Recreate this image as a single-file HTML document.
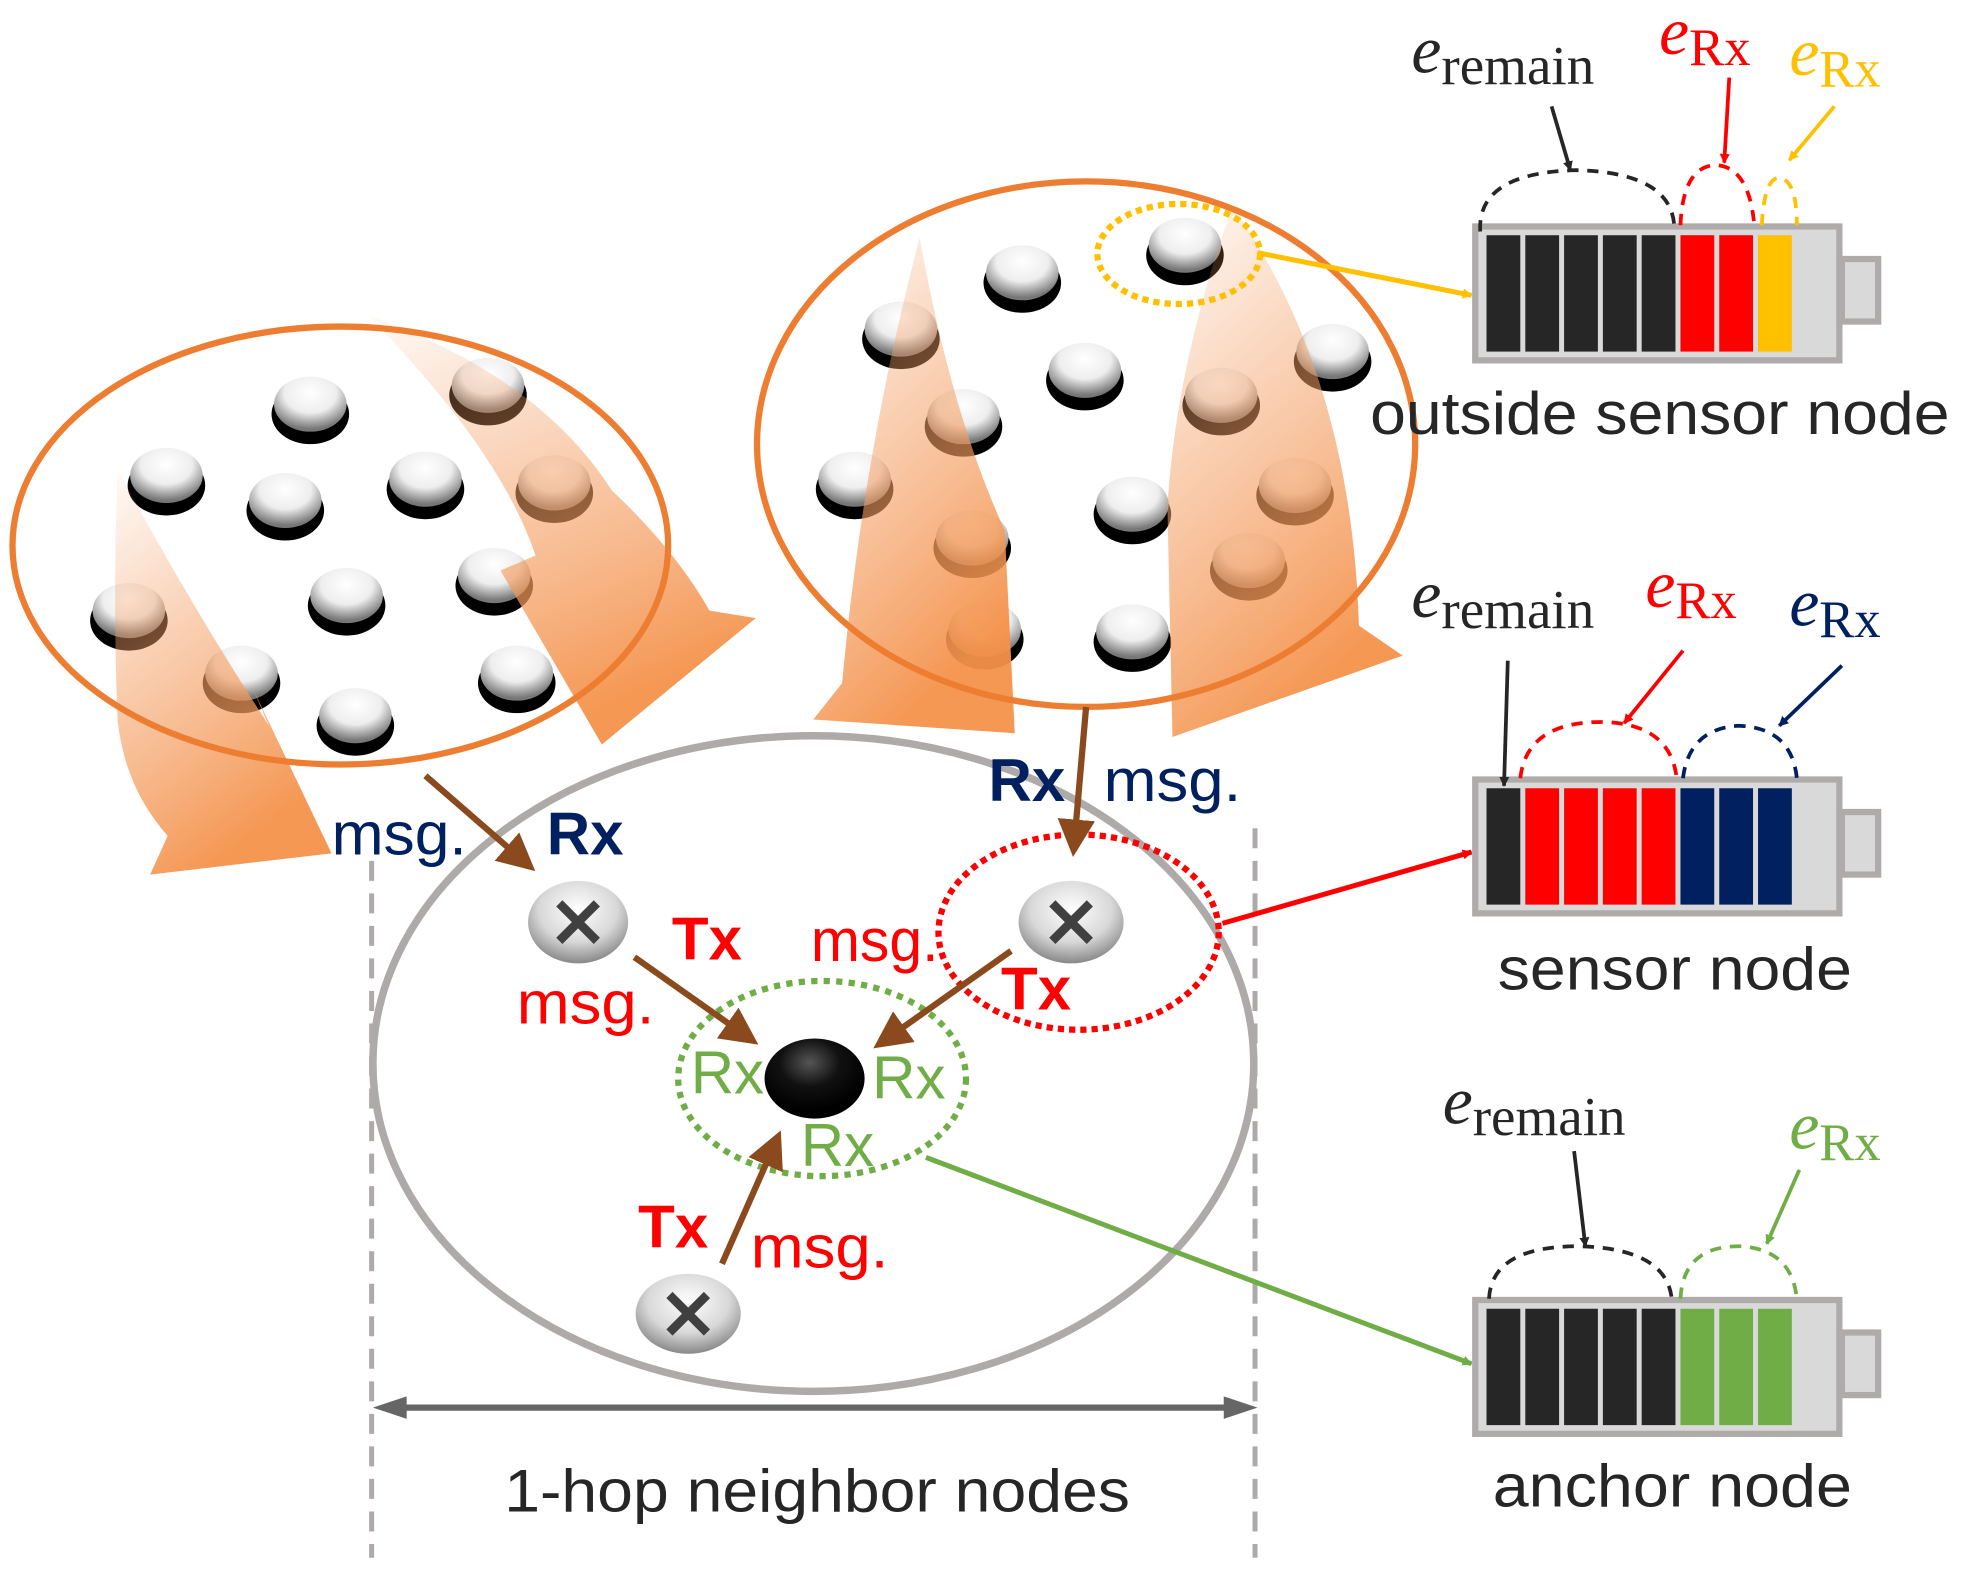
<!DOCTYPE html>
<html><head><meta charset="utf-8"><style>html,body{margin:0;padding:0;background:#fff}svg{display:block}</style></head>
<body>
<svg width="1962" height="1569" viewBox="0 0 1568 1254" preserveAspectRatio="none" xmlns="http://www.w3.org/2000/svg" font-family="Liberation Sans, sans-serif">
<defs>
<linearGradient id="og" x1="0" y1="0" x2="0.4" y2="1"><stop offset="0" stop-color="#f4a066" stop-opacity="0.05"/><stop offset="0.5" stop-color="#f4a066" stop-opacity="0.55"/><stop offset="1" stop-color="#f4924a" stop-opacity="0.95"/></linearGradient>
<radialGradient id="wg" cx="0.5" cy="0.3" r="0.65"><stop offset="0" stop-color="#fff"/><stop offset="0.55" stop-color="#eee"/><stop offset="1" stop-color="#777"/></radialGradient>
<radialGradient id="gg" cx="0.5" cy="0.35" r="0.65"><stop offset="0" stop-color="#fff"/><stop offset="0.6" stop-color="#d8d8d8"/><stop offset="1" stop-color="#888"/></radialGradient>
<radialGradient id="bg" cx="0.45" cy="0.3" r="0.6"><stop offset="0" stop-color="#555"/><stop offset="0.5" stop-color="#111"/><stop offset="1" stop-color="#000"/></radialGradient>
<marker id="mb" markerWidth="6" markerHeight="6" refX="5" refY="3" orient="auto" markerUnits="strokeWidth"><path d="M0,0 L6,3 L0,6z" fill="#8a4a1e"/></marker>
<marker id="ak" markerWidth="8" markerHeight="8" refX="7" refY="4" orient="auto" markerUnits="userSpaceOnUse"><path d="M0,0 L8,4 L0,8z" fill="context-stroke"/></marker>
</defs>

<ellipse cx="650" cy="850" rx="352" ry="262" fill="none" stroke="#aeaaaa" stroke-width="6"/>
<line x1="297" y1="688" x2="297" y2="1245" stroke="#aeaaaa" stroke-width="4" stroke-dasharray="16,10"/>
<line x1="1003" y1="662" x2="1003" y2="1245" stroke="#aeaaaa" stroke-width="4" stroke-dasharray="16,10"/>

<g>
<g transform="translate(248,325)"><ellipse cx="0" cy="6" rx="31" ry="24" fill="#000"/><ellipse cx="0" cy="-2" rx="29" ry="22" fill="url(#wg)"/></g>
<g transform="translate(390,310)"><ellipse cx="0" cy="6" rx="31" ry="24" fill="#000"/><ellipse cx="0" cy="-2" rx="29" ry="22" fill="url(#wg)"/></g>
<g transform="translate(133,382)"><ellipse cx="0" cy="6" rx="31" ry="24" fill="#000"/><ellipse cx="0" cy="-2" rx="29" ry="22" fill="url(#wg)"/></g>
<g transform="translate(228,402)"><ellipse cx="0" cy="6" rx="31" ry="24" fill="#000"/><ellipse cx="0" cy="-2" rx="29" ry="22" fill="url(#wg)"/></g>
<g transform="translate(340,385)"><ellipse cx="0" cy="6" rx="31" ry="24" fill="#000"/><ellipse cx="0" cy="-2" rx="29" ry="22" fill="url(#wg)"/></g>
<g transform="translate(443,388)"><ellipse cx="0" cy="6" rx="31" ry="24" fill="#000"/><ellipse cx="0" cy="-2" rx="29" ry="22" fill="url(#wg)"/></g>
<g transform="translate(103,490)"><ellipse cx="0" cy="6" rx="31" ry="24" fill="#000"/><ellipse cx="0" cy="-2" rx="29" ry="22" fill="url(#wg)"/></g>
<g transform="translate(277,478)"><ellipse cx="0" cy="6" rx="31" ry="24" fill="#000"/><ellipse cx="0" cy="-2" rx="29" ry="22" fill="url(#wg)"/></g>
<g transform="translate(395,462)"><ellipse cx="0" cy="6" rx="31" ry="24" fill="#000"/><ellipse cx="0" cy="-2" rx="29" ry="22" fill="url(#wg)"/></g>
<g transform="translate(193,540)"><ellipse cx="0" cy="6" rx="31" ry="24" fill="#000"/><ellipse cx="0" cy="-2" rx="29" ry="22" fill="url(#wg)"/></g>
<g transform="translate(284,574)"><ellipse cx="0" cy="6" rx="31" ry="24" fill="#000"/><ellipse cx="0" cy="-2" rx="29" ry="22" fill="url(#wg)"/></g>
<g transform="translate(413,540)"><ellipse cx="0" cy="6" rx="31" ry="24" fill="#000"/><ellipse cx="0" cy="-2" rx="29" ry="22" fill="url(#wg)"/></g>
</g>
<g transform="translate(817,220)"><ellipse cx="0" cy="6" rx="31" ry="24" fill="#000"/><ellipse cx="0" cy="-2" rx="29" ry="22" fill="url(#wg)"/></g>
<g transform="translate(947,198)"><ellipse cx="0" cy="6" rx="31" ry="24" fill="#000"/><ellipse cx="0" cy="-2" rx="29" ry="22" fill="url(#wg)"/></g>
<g transform="translate(720,265)"><ellipse cx="0" cy="6" rx="31" ry="24" fill="#000"/><ellipse cx="0" cy="-2" rx="29" ry="22" fill="url(#wg)"/></g>
<g transform="translate(867,298)"><ellipse cx="0" cy="6" rx="31" ry="24" fill="#000"/><ellipse cx="0" cy="-2" rx="29" ry="22" fill="url(#wg)"/></g>
<g transform="translate(976,318)"><ellipse cx="0" cy="6" rx="31" ry="24" fill="#000"/><ellipse cx="0" cy="-2" rx="29" ry="22" fill="url(#wg)"/></g>
<g transform="translate(1065,283)"><ellipse cx="0" cy="6" rx="31" ry="24" fill="#000"/><ellipse cx="0" cy="-2" rx="29" ry="22" fill="url(#wg)"/></g>
<g transform="translate(770,335)"><ellipse cx="0" cy="6" rx="31" ry="24" fill="#000"/><ellipse cx="0" cy="-2" rx="29" ry="22" fill="url(#wg)"/></g>
<g transform="translate(683,385)"><ellipse cx="0" cy="6" rx="31" ry="24" fill="#000"/><ellipse cx="0" cy="-2" rx="29" ry="22" fill="url(#wg)"/></g>
<g transform="translate(905,405)"><ellipse cx="0" cy="6" rx="31" ry="24" fill="#000"/><ellipse cx="0" cy="-2" rx="29" ry="22" fill="url(#wg)"/></g>
<g transform="translate(1035,390)"><ellipse cx="0" cy="6" rx="31" ry="24" fill="#000"/><ellipse cx="0" cy="-2" rx="29" ry="22" fill="url(#wg)"/></g>
<g transform="translate(777,432)"><ellipse cx="0" cy="6" rx="31" ry="24" fill="#000"/><ellipse cx="0" cy="-2" rx="29" ry="22" fill="url(#wg)"/></g>
<g transform="translate(998,450)"><ellipse cx="0" cy="6" rx="31" ry="24" fill="#000"/><ellipse cx="0" cy="-2" rx="29" ry="22" fill="url(#wg)"/></g>
<g transform="translate(787,505)"><ellipse cx="0" cy="6" rx="31" ry="24" fill="#000"/><ellipse cx="0" cy="-2" rx="29" ry="22" fill="url(#wg)"/></g>
<g transform="translate(905,507)"><ellipse cx="0" cy="6" rx="31" ry="24" fill="#000"/><ellipse cx="0" cy="-2" rx="29" ry="22" fill="url(#wg)"/></g>

<path d="M94,375 Q90,480 94,576 Q100,630 134,668 L120,699 L265,682 L200,546 L215,580 Q150,480 94,375z" fill="url(#og)"/>
<path d="M294,252 Q430,300 489,392 Q540,440 567,488 L604,494 L481,595 L400,456 L428,444 Q400,360 294,252z" fill="url(#og)"/>
<path d="M735,190 Q690,360 673,546 L650,575 L811,586 L803,424 Q760,330 735,190z" fill="url(#og)"/>
<path d="M985,165 Q940,290 933,405 L937,589 L1121,524 L1086,500 Q1080,300 985,165z" fill="url(#og)"/>

<ellipse cx="272" cy="436" rx="262" ry="175" fill="none" stroke="#ed7d31" stroke-width="5"/>
<ellipse cx="868" cy="355" rx="263" ry="210" fill="none" stroke="#ed7d31" stroke-width="5"/>
<ellipse cx="942" cy="203" rx="65" ry="40" fill="none" stroke="#ffc000" stroke-width="5" stroke-dasharray="5,4"/>

<g transform="translate(462,737)"><ellipse rx="40" ry="33" fill="url(#gg)"/><path d="M-15,-15 L15,15 M15,-15 L-15,15" stroke="#404040" stroke-width="7"/></g>
<g transform="translate(856,737)"><ellipse rx="42" ry="33" fill="url(#gg)"/><path d="M-15,-15 L15,15 M15,-15 L-15,15" stroke="#404040" stroke-width="7"/></g>
<g transform="translate(550,1050)"><ellipse rx="42" ry="32" fill="url(#gg)"/><path d="M-15,-15 L15,15 M15,-15 L-15,15" stroke="#404040" stroke-width="7"/></g>
<ellipse cx="651" cy="862" rx="40" ry="32" fill="url(#bg)"/>

<ellipse cx="657" cy="862" rx="115" ry="78" fill="none" stroke="#70ad47" stroke-width="5" stroke-dasharray="5,5"/>
<ellipse cx="862" cy="745" rx="112" ry="78" fill="none" stroke="#ff0000" stroke-width="5" stroke-dasharray="5,4"/>

<g stroke="#8a4a1e" stroke-width="5" marker-end="url(#mb)">
<line x1="340" y1="620" x2="424" y2="693"/>
<line x1="868" y1="565" x2="858" y2="680"/>
<line x1="507" y1="765" x2="602" y2="832"/>
<line x1="808" y1="760" x2="702" y2="835"/>
<line x1="577" y1="1010" x2="622" y2="908"/>
</g>

<g marker-end="url(#ak)">
<line x1="1005" y1="202" x2="1176" y2="236" stroke="#ffc000" stroke-width="4"/>
<line x1="977" y1="738" x2="1176" y2="681" stroke="#ff0000" stroke-width="4"/>
<line x1="740" y1="925" x2="1176" y2="1090" stroke="#70ad47" stroke-width="4"/>
</g>
<line x1="310" y1="1125" x2="992" y2="1125" stroke="#666" stroke-width="5"/>
<path d="M298,1125 L325,1116 L325,1134z M1005,1125 L978,1116 L978,1134z" fill="#666"/>

<g font-size="48">
<text x="265" y="683" fill="#002060" textLength="108" lengthAdjust="spacingAndGlyphs">msg.</text>
<text x="437" y="683" fill="#002060" font-weight="bold">Rx</text>
<text x="790" y="640" fill="#002060" font-weight="bold">Rx</text>
<text x="882" y="640" fill="#002060" textLength="110" lengthAdjust="spacingAndGlyphs">msg.</text>
<text x="537" y="767" fill="#ff0000" font-weight="bold">Tx</text>
<text x="413" y="818" fill="#ff0000" textLength="110" lengthAdjust="spacingAndGlyphs">msg.</text>
<text x="648" y="768" fill="#ff0000" textLength="102" lengthAdjust="spacingAndGlyphs">msg.</text>
<text x="800" y="807" fill="#ff0000" font-weight="bold">Tx</text>
<text x="552" y="874" fill="#70ad47">Rx</text>
<text x="697" y="878" fill="#70ad47">Rx</text>
<text x="640" y="932" fill="#70ad47">Rx</text>
<text x="510" y="997" fill="#ff0000" font-weight="bold">Tx</text>
<text x="600" y="1013" fill="#ff0000" textLength="110" lengthAdjust="spacingAndGlyphs">msg.</text>
</g>
<text x="403" y="1208" font-size="48" fill="#262626" textLength="500" lengthAdjust="spacingAndGlyphs">1-hop neighbor nodes</text>

<g fill="#d9d9d9" stroke="#afabab" stroke-width="5">
<rect x="1179" y="181" width="291" height="107"/><rect x="1472" y="207" width="29" height="50"/>
<rect x="1179" y="623" width="291" height="107"/><rect x="1472" y="649" width="29" height="50"/>
<rect x="1179" y="1039" width="291" height="107"/><rect x="1472" y="1065" width="29" height="50"/>
</g>
<g>
<rect x="1188" y="188" width="27" height="93" fill="#262626"/><rect x="1219" y="188" width="27" height="93" fill="#262626"/><rect x="1250" y="188" width="27" height="93" fill="#262626"/><rect x="1281" y="188" width="27" height="93" fill="#262626"/><rect x="1312" y="188" width="27" height="93" fill="#262626"/><rect x="1343" y="188" width="27" height="93" fill="#ff0000"/><rect x="1374" y="188" width="27" height="93" fill="#ff0000"/><rect x="1405" y="188" width="27" height="93" fill="#ffc000"/>
<rect x="1188" y="630" width="27" height="93" fill="#262626"/><rect x="1219" y="630" width="27" height="93" fill="#ff0000"/><rect x="1250" y="630" width="27" height="93" fill="#ff0000"/><rect x="1281" y="630" width="27" height="93" fill="#ff0000"/><rect x="1312" y="630" width="27" height="93" fill="#ff0000"/><rect x="1343" y="630" width="27" height="93" fill="#002060"/><rect x="1374" y="630" width="27" height="93" fill="#002060"/><rect x="1405" y="630" width="27" height="93" fill="#002060"/>
<rect x="1188" y="1046" width="27" height="93" fill="#262626"/><rect x="1219" y="1046" width="27" height="93" fill="#262626"/><rect x="1250" y="1046" width="27" height="93" fill="#262626"/><rect x="1281" y="1046" width="27" height="93" fill="#262626"/><rect x="1312" y="1046" width="27" height="93" fill="#262626"/><rect x="1343" y="1046" width="27" height="93" fill="#70ad47"/><rect x="1374" y="1046" width="27" height="93" fill="#70ad47"/><rect x="1405" y="1046" width="27" height="93" fill="#70ad47"/>
</g>
<g fill="none" stroke-width="3" stroke-dasharray="9,7">
<path d="M1183,185 Q1180,138 1260,136 Q1335,138 1338,180" stroke="#262626"/>
<path d="M1343,180 Q1345,132 1372,132 Q1398,134 1402,180" stroke="#ff0000"/>
<path d="M1408,180 Q1410,142 1422,142 Q1436,144 1436,180" stroke="#ffc000"/>
<path d="M1215,622 Q1220,577 1280,577 Q1335,578 1340,622" stroke="#ff0000"/>
<path d="M1345,622 Q1350,582 1390,580 Q1432,582 1436,622" stroke="#002060"/>
<path d="M1190,1038 Q1192,996 1262,996 Q1332,998 1336,1038" stroke="#262626"/>
<path d="M1343,1038 Q1345,996 1390,996 Q1432,998 1436,1038" stroke="#70ad47"/>
</g>
<g stroke-width="3" marker-end="url(#ak)">
<line x1="1240" y1="85" x2="1255" y2="136" stroke="#262626"/>
<line x1="1382" y1="62" x2="1378" y2="130" stroke="#ff0000"/>
<line x1="1466" y1="85" x2="1430" y2="128" stroke="#ffc000"/>
<line x1="1205" y1="528" x2="1202" y2="628" stroke="#262626"/>
<line x1="1345" y1="520" x2="1298" y2="578" stroke="#ff0000"/>
<line x1="1472" y1="532" x2="1422" y2="580" stroke="#002060"/>
<line x1="1258" y1="920" x2="1267" y2="996" stroke="#262626"/>
<line x1="1438" y1="935" x2="1412" y2="994" stroke="#70ad47"/>
</g>
<g font-family="Liberation Serif, serif">
<text x="1128" y="58" font-size="54" font-style="italic" fill="#262626">e<tspan font-size="44" font-style="normal" dy="9">remain</tspan></text>
<text x="1326" y="43" font-size="54" font-style="italic" fill="#ff0000">e<tspan font-size="42" font-style="normal" dy="9">Rx</tspan></text>
<text x="1430" y="60" font-size="54" font-style="italic" fill="#ffc000">e<tspan font-size="42" font-style="normal" dy="9">Rx</tspan></text>
<text x="1128" y="493" font-size="54" font-style="italic" fill="#262626">e<tspan font-size="44" font-style="normal" dy="9">remain</tspan></text>
<text x="1315" y="485" font-size="54" font-style="italic" fill="#ff0000">e<tspan font-size="42" font-style="normal" dy="9">Rx</tspan></text>
<text x="1430" y="500" font-size="54" font-style="italic" fill="#002060">e<tspan font-size="42" font-style="normal" dy="9">Rx</tspan></text>
<text x="1153" y="898" font-size="54" font-style="italic" fill="#262626">e<tspan font-size="44" font-style="normal" dy="9">remain</tspan></text>
<text x="1430" y="918" font-size="54" font-style="italic" fill="#70ad47">e<tspan font-size="42" font-style="normal" dy="9">Rx</tspan></text>
</g>
<g font-size="48" fill="#262626">
<text x="1095" y="347" textLength="463" lengthAdjust="spacingAndGlyphs">outside sensor node</text>
<text x="1197" y="791" textLength="283" lengthAdjust="spacingAndGlyphs">sensor node</text>
<text x="1193" y="1204" textLength="287" lengthAdjust="spacingAndGlyphs">anchor node</text>
</g>
</svg>
</body></html>
